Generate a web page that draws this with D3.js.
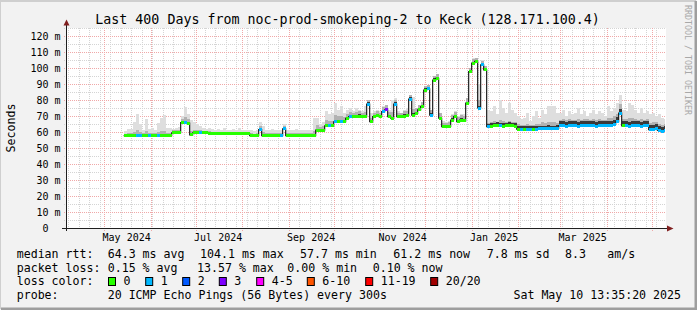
<!DOCTYPE html>
<html>
<head>
<meta charset="utf-8">
<script src="https://cdn.jsdelivr.net/npm/d3@7"></script>
<style>
  body { margin: 0; background: #f2f2f2; }
  svg text { font-family: "DejaVu Sans Mono", monospace; fill: #000; }
</style>
</head>
<body>
<svg id="chart"></svg>
<script>
// smokeping 400 day graph (2 day buckets)

const title = "Last 400 Days from noc-prod-smokeping-2 to Keck (128.171.100.4)";
const startTime = new Date(Date.UTC(2024, 3, 5, 13, 35, 20));
const endTime = new Date(Date.UTC(2025, 4, 10, 13, 35, 20));
const dataStart = new Date(Date.UTC(2024, 4, 14));
const stepDays = 2;

// median rtt per bucket (ms)
const median = [
  57.7,57.7,57.7,57.7,57.7,57.7,57.7,57.7,57.7,57.7,
  57.7,57.7,57.7,57.7,57.7,57.7,59.5,59.5,59.6,65.8,
  65.8,65.6,58.2,59.4,59.4,59.5,59.4,59.4,59.3,58.8,
  58.8,58.8,58.8,58.8,58.8,58.8,58.8,58.8,58.8,58.8,
  58.8,58.8,57.7,57.7,57.7,61.5,57.7,57.7,57.7,57.7,
  57.7,57.7,57.7,62.0,57.7,57.7,57.7,57.7,57.7,57.7,
  57.7,57.7,57.7,57.7,61.2,61.2,61.2,63.8,63.8,63.8,
  66.4,66.4,66.6,66.4,68.5,69.6,69.5,69.6,70.0,69.4,
  69.6,77.5,66.4,69.6,70.2,69.6,72.7,73.8,69.6,68.6,
  77.5,69.6,69.6,70.0,70.4,80.6,70.6,71.7,73.8,75.8,
  86.2,87.0,70.6,92.5,93.5,68.6,63.3,63.3,63.5,67.5,
  69.6,66.5,67.5,67.0,78.0,97.7,103.0,104.1,75.0,102.0,
  98.8,63.3,63.6,63.8,64.0,63.8,63.6,63.8,64.0,63.8,
  63.6,61.8,61.8,61.6,61.8,61.8,61.6,61.8,62.0,62.0,
  62.0,62.2,62.0,62.0,62.2,63.8,63.8,63.6,63.8,63.8,
  63.8,63.6,63.8,63.8,64.0,63.8,63.8,63.6,63.8,63.8,
  63.8,64.0,64.2,65.0,66.4,71.8,63.8,63.8,63.6,63.8,
  63.8,63.8,63.6,63.8,63.8,61.5,61.5,62.0,61.0,60.6,
  61.2
];

// lost pings class per bucket (index into lossColors)
const loss = [
  0,0,0,0,1,1,0,0,1,0,
  0,1,0,0,0,0,0,0,0,0,
  1,0,0,0,0,1,0,0,0,0,
  0,0,0,0,0,0,0,0,0,0,
  0,0,0,0,0,1,0,0,0,0,
  0,0,1,1,0,0,0,0,0,0,
  0,0,0,0,0,0,0,0,1,0,
  1,0,1,0,0,1,0,0,0,0,
  0,1,0,0,0,0,1,3,0,0,
  1,0,0,0,0,1,0,0,0,0,
  0,1,1,0,0,0,0,0,0,0,
  0,0,0,0,0,0,0,0,1,1,
  0,1,0,0,0,1,0,0,0,0,
  0,0,1,0,1,1,0,1,1,1,
  1,1,1,1,1,1,1,1,1,1,
  1,1,1,1,1,1,1,1,1,1,
  1,1,1,1,1,1,0,1,1,1,
  1,1,1,1,1,1,1,1,1,1,
  1
];

// highest ping per bucket (ms)
const smokeTop = [
  60.5,62,62,66,71.5,65,61.5,68,62,62.5,
  61.5,65.5,68.7,70.6,62.5,62.5,62,62.5,63,70,
  75.8,71,67.5,66,65,63.5,62.5,62,62.5,62,
  61.5,62,61,62.5,61.5,61,62,61.5,62.5,61,
  61.5,61,61,60.5,61,66,64,61.5,61,62,
  61.5,61,61.5,65,61,61.5,61,62,61.5,61,
  61.5,61,61.5,69,68.5,65,66,73,71,72,
  78,74,76,72,74,75,73,75,74,73,
  76,80,72,73,74,73,76,77,74,80,
  81,73,72,74,75,83,82,75,77,79,
  88,89,74,95,95,72,67,66,67,71,
  73,70,71,71,81,100,106,106,90,105,
  101,74,73,76,71,80,75,72,78,74,
  72,70,68,69,72,67,70,73,69,74,
  71,76,76,76,72,72,74,70,73,71,
  72,75,71,73,70,72,74,71,73,72,
  70,76,73,75,78,83,74,73,78,77,
  74,72,75,72,73,71,72,70,71,69,
  68
];

// upper edge of the mid gray smoke, ms above median
const spreadMid = [
  1.2,1.8,1.8,2.5,3.5,2.2,1.5,2.8,1.5,1.8,
  1.5,2.2,2.8,3.0,1.5,1.5,1.5,1.5,1.5,2.5,
  3.5,2.5,2.5,2.0,2.0,1.8,1.5,1.5,1.5,1.5,
  1.5,1.5,1.5,1.5,1.5,1.5,1.5,1.5,1.5,1.5,
  1.5,1.5,1.5,1.2,1.5,2.5,2.0,1.5,1.5,1.5,
  1.5,1.5,1.5,2.0,1.5,1.5,1.5,1.5,1.5,1.5,
  1.5,1.5,1.5,3.0,3.0,2.0,2.5,3.5,3.0,3.0,
  4,3.5,3.5,3,3,3,2.5,3,3,2.5,
  3,2.5,2.5,2.5,3,2.5,3,3,3,4,
  2.5,2.5,2.5,3,3,2.5,4,3,3,3,
  2.5,2.5,3,2.5,2.5,3,2.5,2.5,2.5,3,
  3,3,3,3,3,2.5,2.5,2,5,2.5,
  2.5,2.5,2.5,3,2.5,3.5,3,2.5,3,2.5,
  2.5,3,2.5,3,3.5,2.5,3,3.5,3,4,
  3.5,4,4,4,3.5,4,4.5,4,4.5,4,
  4,4.5,4,4.5,4,4,4.5,4,4.5,4,
  4,5,4.5,5,5,6,4.5,4.5,5,5,
  4.5,4,4.5,4,4.5,4,4.5,4,4,3.5,
  3.5
];

// upper edge of the dark core smoke, ms above median
const spreadCore = [
  0.6,0.6,0.6,0.6,0.6,0.6,0.6,0.6,0.6,0.6,
  0.6,0.6,0.6,0.6,0.6,0.6,0.6,0.6,0.6,0.6,
  0.6,0.6,0.6,0.6,0.6,0.6,0.6,0.6,0.6,0.6,
  0.6,0.6,0.6,0.6,0.6,0.6,0.6,0.6,0.6,0.6,
  0.6,0.6,0.6,0.6,0.6,0.6,0.6,0.6,0.6,0.6,
  0.6,0.6,0.6,0.6,0.6,0.6,0.6,0.6,0.6,0.6,
  0.6,0.6,0.6,0.6,0.6,0.6,0.6,0.6,0.6,0.6,
  1,1,1,1,1,1,1,1,1,1,
  1,1,1,1,1,1,1,1,1,1,
  1,1,1,1,1,1,1,1,1,1,
  1,1,1,1,1,1,1,1,1,1,
  1,1,1,1,1,1,1,1,1,1,
  1,2,2,2,2,2,2,2,2,2,
  2,2,2,2,2,2,2,2,2,2,
  2,2,2,2,2,2.8,2.8,2.8,2.8,2.8,
  2.8,2.8,2.8,2.8,2.8,2.8,2.8,2.8,2.8,2.8,
  2.8,2.8,2.8,2.8,2.8,2.8,2.8,2.8,2.8,2.8,
  2.8,2.8,2.8,2.8,2.8,2.8,2.8,2.8,2.8,2.8,
  2.8
];

const yTickValues = [0, 10, 20, 30, 40, 50, 60, 70, 80, 90, 100, 110, 120];
const xLabelMonths = ["2024-05-01", "2024-07-01", "2024-09-01", "2024-11-01", "2025-01-01", "2025-03-01"];

const lossNames = ["0", "1", "2", "3", "4-5", "6-10", "11-19", "20/20"];
const lossColors = ["#26ff00", "#00b8ff", "#0059ff", "#7e00ff", "#ff00ff", "#ff5500", "#ff0000", "#a00000"];
const lossBoxX = [108.5, 145.7, 182.7, 219.3, 256.7, 307.3, 365.7, 430.7];

const rttStats = [["median rtt:", 16.7], ["64.3 ms avg", 107.7], ["104.1 ms max", 200], ["57.7 ms min", 300],
  ["61.2 ms now", 393.3], ["7.8 ms sd", 486.7], ["8.3", 565], ["am/s", 607.3]];
const lossStats = [["packet loss:", 16.7], ["0.15 % avg", 107.7], ["13.57 % max", 197], ["0.00 % min", 287.3],
  ["0.10 % now", 372.7]];
const probeInfo = [["probe:", 16.7], ["20 ICMP Echo Pings (56 Bytes) every 300s", 107.7]];
const stamp = "Sat May 10 13:35:20 2025";

const width = 697, height = 310;
const svg = d3.select("#chart").attr("width", width).attr("height", height);

// background and frame shade
svg.append("rect").attr("width", width).attr("height", height).attr("fill", "#f2f2f2");
svg.append("path").attr("d", `M0,${height - 1} V1 H${width - 1}`).attr("stroke", "#cfcfcf").attr("stroke-width", 2).attr("fill", "none");
svg.append("path").attr("d", `M1,${height - 1} H${width - 1} V1`).attr("stroke", "#9e9e9e").attr("stroke-width", 3).attr("fill", "none");

const x = d3.scaleUtc().domain([startTime, endTime]).range([66, 666]);
const y = d3.scaleLinear().domain([0, 125]).range([228, 28]);

svg.append("rect")
  .attr("x", x.range()[0]).attr("y", y(125))
  .attr("width", x.range()[1] - x.range()[0]).attr("height", y(0) - y(125))
  .attr("fill", "#fff");

// grid
const minorColor = "#d4d4d4", majorColor = "#f0a8a8";
const grid = svg.append("g").attr("fill", "none").attr("stroke-width", 1).attr("stroke-dasharray", "1,1");

const yMinor = d3.range(5, 126, 10);
grid.selectAll(".hmin").data(yMinor).join("line")
  .attr("x1", x.range()[0] - 2).attr("x2", x.range()[1])
  .attr("y1", d => Math.round(y(d)) + 0.5).attr("y2", d => Math.round(y(d)) + 0.5)
  .attr("stroke", minorColor);

const weeks = d3.utcSunday.range(startTime, endTime);
grid.selectAll(".vmin").data(weeks).join("line")
  .attr("x1", d => Math.round(x(d)) + 0.5).attr("x2", d => Math.round(x(d)) + 0.5)
  .attr("y1", y(125)).attr("y2", y(0) + 2)
  .attr("stroke", minorColor);

grid.selectAll(".hmaj").data(yTickValues.filter(d => d > 0)).join("line")
  .attr("x1", x.range()[0] - 2).attr("x2", x.range()[1])
  .attr("y1", d => Math.round(y(d)) + 0.5).attr("y2", d => Math.round(y(d)) + 0.5)
  .attr("stroke", majorColor);

const months = d3.utcMonth.range(startTime, endTime);
grid.selectAll(".vmaj").data(months).join("line")
  .attr("x1", d => Math.round(x(d)) + 0.5).attr("x2", d => Math.round(x(d)) + 0.5)
  .attr("y1", y(125)).attr("y2", y(0) + 3)
  .attr("stroke", majorColor);

// buckets
const day = 864e5;
const buckets = median.map((m, i) => {
  const t0 = new Date(+dataStart + i * stepDays * day);
  const t1 = new Date(Math.min(+t0 + stepDays * day, +endTime - 0.8 * day));
  return { t0, t1, med: m, top: smokeTop[i], mid: m + spreadMid[i], core: m + spreadCore[i], loss: loss[i] };
});

const plot = svg.append("g");

function smokeLayer(key, color) {
  plot.selectAll(null).data(buckets).join("rect")
    .attr("x", d => x(d.t0))
    .attr("width", d => x(d.t1) - x(d.t0))
    .attr("y", d => y(d[key]))
    .attr("height", d => Math.max(0, y(d.med) - y(d[key])))
    .attr("fill", color)
    .attr("shape-rendering", "crispEdges");
}
smokeLayer("top", "#dedede");
smokeLayer("mid", "#b2b2b2");
smokeLayer("core", "#3a3a3a");

// median line under the loss coloured band
const stepPts = buckets.map(d => [d.t0, d.med]).concat([[buckets[buckets.length - 1].t1, buckets[buckets.length - 1].med]]);
plot.append("path")
  .attr("d", d3.line().x(d => x(d[0])).y(d => y(d[1])).curve(d3.curveStepAfter)(stepPts))
  .attr("fill", "none").attr("stroke", "#202020").attr("stroke-width", 1.2);

plot.selectAll(null).data(buckets).join("rect")
  .attr("x", d => x(d.t0))
  .attr("width", d => x(d.t1) - x(d.t0))
  .attr("y", d => y(d.med) - 1.5)
  .attr("height", 3)
  .attr("fill", d => lossColors[d.loss])
  .attr("shape-rendering", "crispEdges");

// axes
const axisColor = "#1f1f1f", arrowColor = "#801f1f";
svg.append("line").attr("x1", 62).attr("x2", 669).attr("y1", y(0) + 0.5).attr("y2", y(0) + 0.5).attr("stroke", axisColor);
svg.append("line").attr("x1", 66.5).attr("x2", 66.5).attr("y1", y(0) + 3).attr("y2", 24).attr("stroke", axisColor);
svg.append("path").attr("d", `M667,${y(0) - 2.5} L673.5,${y(0) + 0.5} L667,${y(0) + 3.5} Z`).attr("fill", arrowColor);
svg.append("path").attr("d", "M63.5,25.5 L66.5,19.5 L69.5,25.5 Z").attr("fill", arrowColor);

// y tick labels
svg.append("g").selectAll("text").data(yTickValues).join("text")
  .attr("x", 60.5).attr("y", d => y(d) + 3.6)
  .attr("text-anchor", "end").attr("font-size", "10px")
  .text(d => d === 0 ? "0\u00a0\u00a0" : d + "\u00a0m");

// x labels, centred half a month after the month start
svg.append("g").selectAll("text").data(xLabelMonths).join("text")
  .attr("x", d => x(new Date(Date.parse(d + "T00:00:00Z") + 15 * day)))
  .attr("y", 240.8)
  .attr("text-anchor", "middle").attr("font-size", "10px")
  .text(d => d3.utcFormat("%b %Y")(new Date(d + "T00:00:00Z")));

// title, unit, watermark
svg.append("text").attr("x", 347.5).attr("y", 24).attr("text-anchor", "middle")
  .attr("font-size", "13.3px").text(title);
svg.append("text").attr("transform", "translate(15,128) rotate(-90)").attr("text-anchor", "middle")
  .attr("font-size", "11.6px").text("Seconds");
svg.append("text").attr("transform", "translate(684.5,5) rotate(90)")
  .attr("font-size", "8.3px").style("fill", "#a8a8a8").text("RRDTOOL / TOBI OETIKER");

// legend
const legend = svg.append("g").attr("font-size", "11.6px").style("white-space", "pre");
const rows = [[rttStats, 258], [lossStats, 271.7], [probeInfo, 299]];
rows.forEach(([items, yy]) => {
  legend.append("g").selectAll("text").data(items).join("text")
    .attr("x", d => d[1]).attr("y", yy).text(d => d[0]);
});
legend.append("text").attr("x", 16.7).attr("y", 285.4).text("loss color:");
legend.append("g").selectAll("rect").data(lossNames).join("rect")
  .attr("x", (d, i) => lossBoxX[i]).attr("y", 277.5).attr("width", 7).attr("height", 8)
  .attr("fill", (d, i) => lossColors[i]).attr("stroke", "#000");
legend.append("g").selectAll("text").data(lossNames).join("text")
  .attr("x", (d, i) => lossBoxX[i] + 15).attr("y", 285.4).text(d => d);
legend.append("text").attr("x", 681).attr("y", 299).attr("text-anchor", "end").text(stamp);
</script>
</body>
</html>
